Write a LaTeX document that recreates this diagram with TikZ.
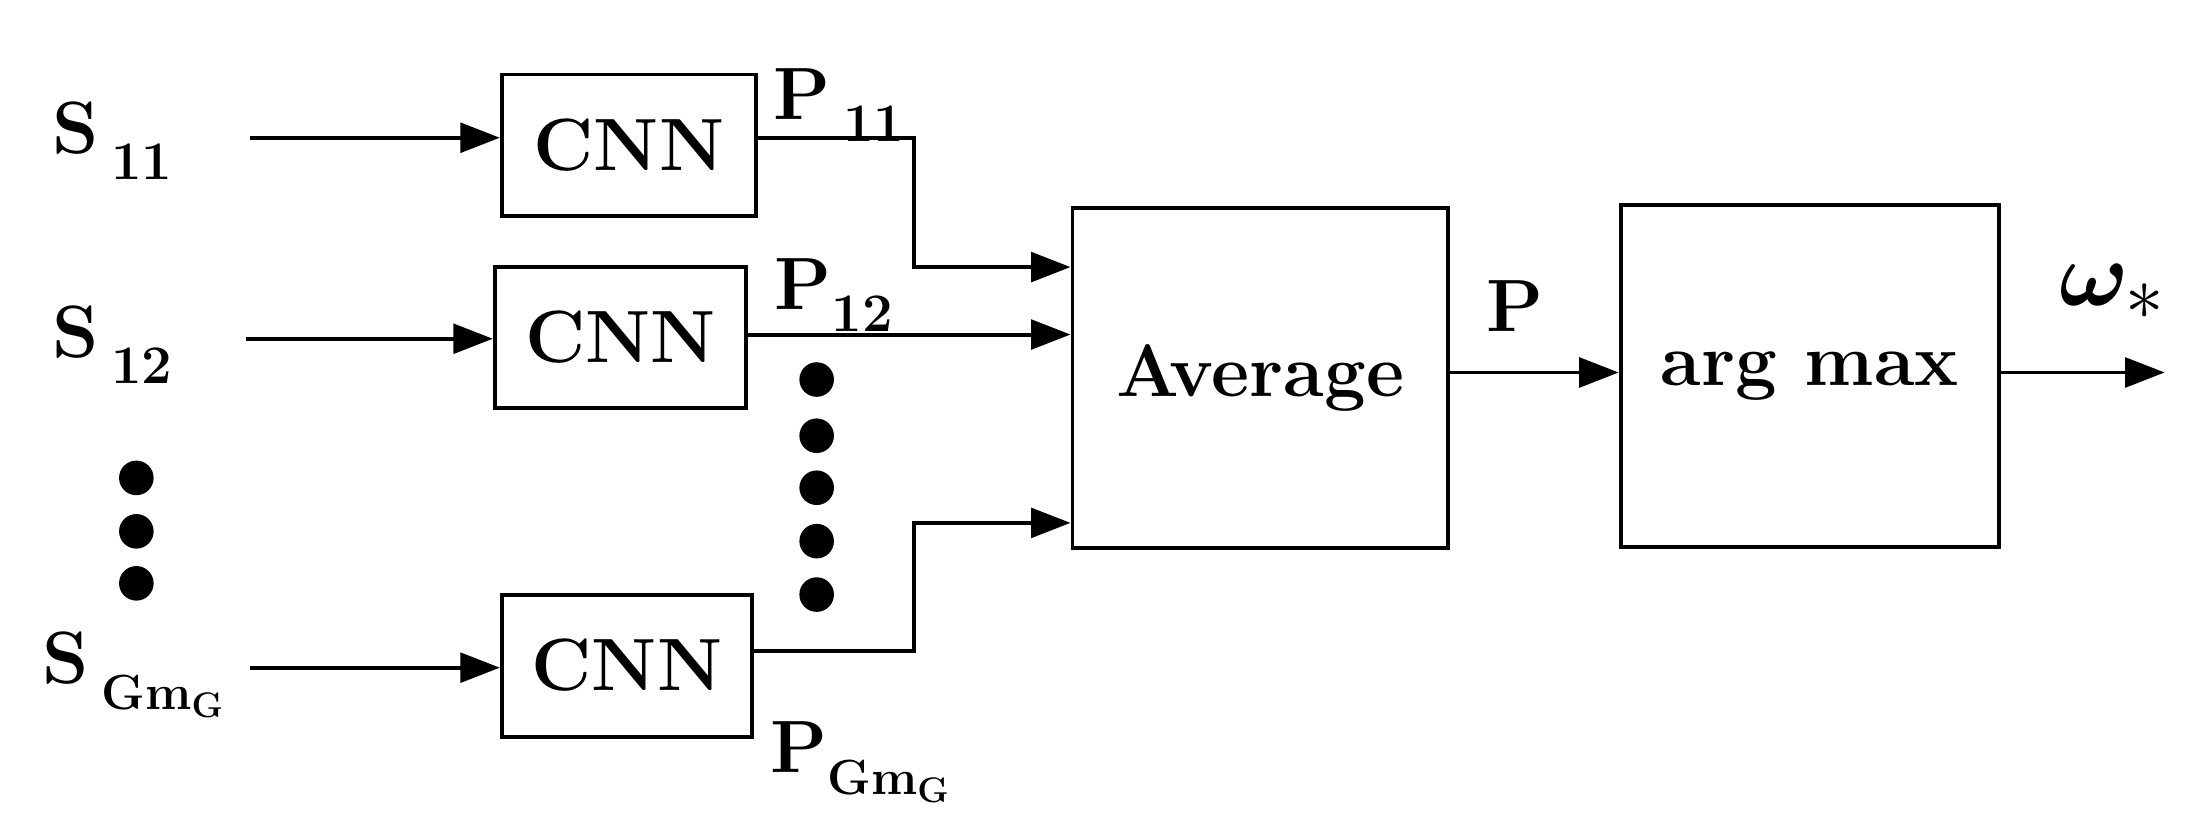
\documentclass[tikz,border=0pt]{standalone}
\usepackage{amsmath,bm}
\usetikzlibrary{arrows.meta}
\begin{document}
\begin{tikzpicture}[x=0.02cm,y=-0.02cm,
  blk/.style={draw,line width=1.6pt,font=\fontsize{30}{36}\selectfont\bfseries},
  arr/.style={line width=1.6pt,-{Triangle[length=16pt,width=12pt]}},
  ln/.style={line width=1.6pt},
  lbl/.style={font=\fontsize{30}{36}\selectfont\bfseries},
  dot/.style={circle,fill,inner sep=0pt,minimum size=14pt}]
\useasboundingbox (0,0) rectangle (1568,588);
\node[blk,minimum width=181*0.02cm,minimum height=101*0.02cm] (c1) at (447.5,103.5) {CNN};
\node[blk,minimum width=179*0.02cm,minimum height=100*0.02cm] (c2) at (441.5,240) {CNN};
\node[blk,minimum width=178*0.02cm,minimum height=101*0.02cm] (c3) at (446,473.5) {CNN};
\node[blk,minimum width=267*0.02cm,minimum height=242*0.02cm] (avg) at (896.5,269) {Average};
\node[blk,minimum width=269*0.02cm,minimum height=243*0.02cm] (am) at (1287.5,267.5) {arg max};
\node[lbl] (s1) at (80,100) {S\,\raisebox{-0.35em}{\fontsize{22}{26}\selectfont 11}};
\node[lbl] (s2) at (80,245) {S\,\raisebox{-0.35em}{\fontsize{22}{26}\selectfont 12}};
\node[lbl] (s3) at (95,480) {S\,\raisebox{-0.35em}{\fontsize{20}{24}\selectfont Gm$_{\mathbf{G}}$}};
\coordinate (i1) at (178,98); \coordinate (i2) at (175,241); \coordinate (i3) at (178,475);
\draw[arr] (i1) -- (c1.west|-i1);
\draw[arr] (i2) -- (c2.west|-i2);
\draw[arr] (i3) -- (c3.west|-i3);
\foreach \y/\n in {340/a,378/b,415/c} \node[dot] (l\n) at (97,\y) {};
\foreach \y/\n in {270/a,310/b,347/c,385/d,423/e} \node[dot] (m\n) at (581,\y) {};
\node[lbl] (p1) at (597,75) {P\,\raisebox{-0.3em}{\fontsize{22}{26}\selectfont 11}};
\node[lbl] (p2) at (593,210) {P\raisebox{-0.3em}{\fontsize{22}{26}\selectfont 12}};
\node[lbl] (p3) at (612,542) {P\raisebox{-0.3em}{\fontsize{20}{24}\selectfont Gm$_{\mathbf{G}}$}};
\coordinate (a1) at (538,98); \coordinate (a2) at (531,238); \coordinate (a3) at (535,463);
\draw[arr] (a1) -- (650,98) -- (650,190) -- (avg.west|-0,190);
\draw[arr] (a2) -- (avg.west|-a2);
\draw[arr] (a3) -- (650,463) -- (650,372) -- (avg.west|-0,372);
\node[lbl] (p) at (1078,218) {P};
\draw[arr] (avg.east|-0,265) -- (am.west|-0,265);
\coordinate (out) at (1540,265);
\draw[arr] (am.east|-out) -- (out);
\node[lbl] (w) at (1503,208) {\scalebox{1.5}{$\bm{\omega}_{*}$}};
\end{tikzpicture}
\end{document}
